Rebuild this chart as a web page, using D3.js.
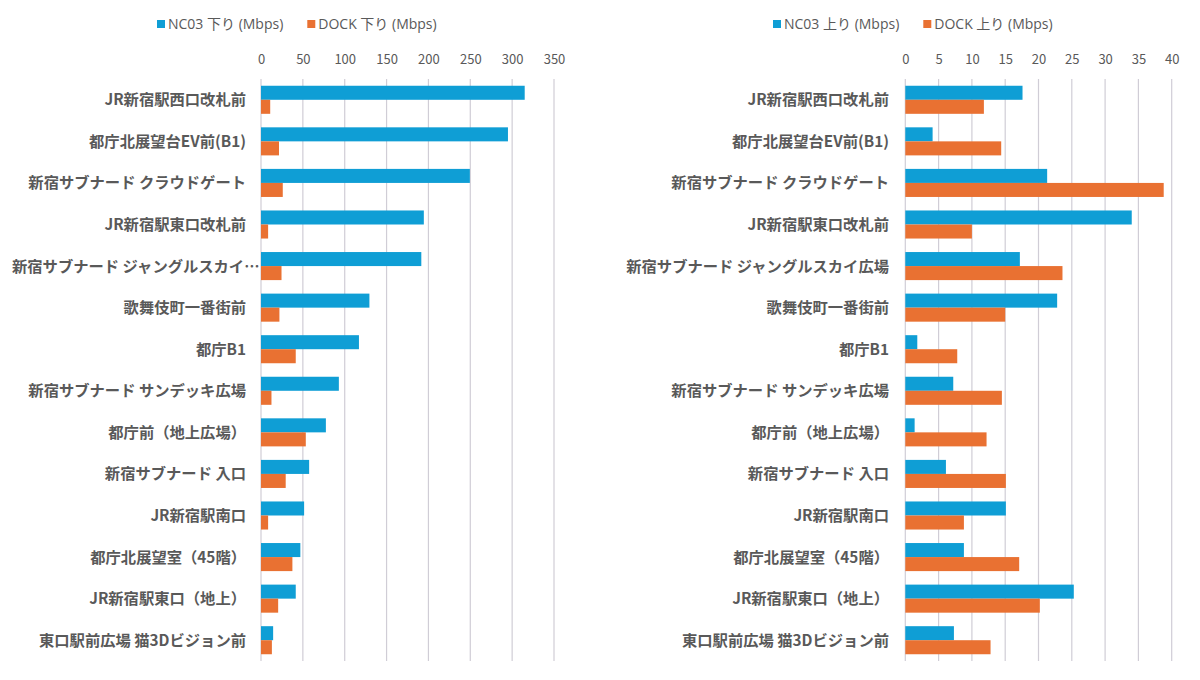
<!DOCTYPE html>
<html>
<head>
<meta charset="utf-8">
<script src="https://cdn.jsdelivr.net/npm/d3@7"></script>
<style>
  body { margin: 0; background: #fff; }
  svg text { font-family: "Noto Sans CJK JP", "Noto Sans", sans-serif; fill: #595959; }
  svg text.leg { font-family: "Open Sans", "Noto Sans CJK JP", sans-serif; }
</style>
</head>
<body>
<div class="chart"></div>
<script>
const downLabels = ["JR新宿駅西口改札前", "都庁北展望台EV前(B1)", "新宿サブナード クラウドゲート", "JR新宿駅東口改札前",
  "新宿サブナード ジャングルスカイ…", "歌舞伎町一番街前", "都庁B1", "新宿サブナード サンデッキ広場",
  "都庁前（地上広場）", "新宿サブナード 入口", "JR新宿駅南口", "都庁北展望室（45階）", "JR新宿駅東口（地上）",
  "東口駅前広場 猫3Dビジョン前"]
const upLabels = downLabels.map(d => d.replace("スカイ…", "スカイ広場"))

const nc03Down = [315, 295, 249.5, 194.5, 191.5, 129.5, 117, 93, 77.5, 57.5, 51.5, 47, 41.5, 14.5]
const dockDown = [11, 21.5, 26, 8.5, 24.5, 22, 41.5, 12.5, 53.5, 29.5, 8.5, 37.5, 20.5, 13]
const nc03Up = [17.6, 4.1, 21.3, 34.0, 17.2, 22.8, 1.8, 7.2, 1.4, 6.1, 15.1, 8.8, 25.3, 7.3]
const dockUp = [11.8, 14.4, 38.8, 10.0, 23.6, 15.0, 7.8, 14.5, 12.2, 15.1, 8.8, 17.1, 20.2, 12.8]

const downTicks = [0, 50, 100, 150, 200, 250, 300, 350]
const upTicks = [0, 5, 10, 15, 20, 25, 30, 35, 40]

const blue = "#0f9ed5", orange = "#e97132"

const svg = d3.select(".chart").append("svg")
  .attr("width", 1200).attr("height", 680)

const panel = (labels, s1, s2, names, ticks, xRange, labelEnd, legendX) => {
  const x = d3.scaleLinear().domain([0, d3.max(ticks)]).range(xRange)
  const y = d3.scaleBand().domain(labels).range([79, 661])
    .paddingInner(0.325).paddingOuter(0.1625)
  const sub = d3.scaleBand().domain([0, 1]).range([0, y.bandwidth()])

  const g = svg.append("g")

  // gridlines
  g.selectAll("line.grid")
    .data(ticks)
    .join("line")
      .attr("class", "grid")
      .attr("x1", d => x(d)).attr("x2", d => x(d))
      .attr("y1", 79).attr("y2", 661)
      .attr("stroke", "#d0cdd6").attr("stroke-width", 1.2)

  // tick labels on top
  const axis = d3.axisTop(x).tickValues(ticks).tickSize(0).tickPadding(0)
  const ax = g.append("g").attr("transform", "translate(0,64)").call(axis)
  ax.select(".domain").remove()
  ax.selectAll("text").style("font-size", "13px").attr("fill", "#595959")

  // bars
  const series = [s1, s2]
  const colors = [blue, orange]
  series.forEach((s, k) => {
    g.selectAll("rect.s" + k)
      .data(s)
      .join("rect")
        .attr("class", "s" + k)
        .attr("x", x(0))
        .attr("y", (d, i) => y(labels[i]) + sub(k))
        .attr("width", d => x(d) - x(0))
        .attr("height", sub.bandwidth())
        .attr("fill", colors[k])
  })

  // category labels
  g.selectAll("text.cat")
    .data(labels)
    .join("text")
      .attr("class", "cat")
      .attr("x", d => d.endsWith("…") ? 12 : labelEnd)
      .attr("y", d => y(d) + y.bandwidth() / 2)
      .attr("dy", "0.36em")
      .attr("text-anchor", d => d.endsWith("…") ? "start" : "end")
      .style("font-size", "15.3px")
      .style("font-weight", "bold")
      .text(d => d)

  // legend
  const lg = g.append("g").attr("transform", `translate(${legendX},24)`)
  let off = 0
  names.forEach((n, k) => {
    const item = lg.append("g").attr("transform", `translate(${off},0)`)
    item.append("rect").attr("x", 0).attr("y", -4).attr("width", 8).attr("height", 8).attr("fill", colors[k])
    const t = item.append("text").attr("class", "leg").attr("x", 11).attr("dy", "0.36em")
      .style("font-size", "14px").text(n)
    off += 11 + t.node().getComputedTextLength() + 24
  })
}

panel(downLabels, nc03Down, dockDown, ["NC03 下り (Mbps)", "DOCK 下り (Mbps)"], downTicks, [261, 554], 246, 157)
panel(upLabels, nc03Up, dockUp, ["NC03 上り (Mbps)", "DOCK 上り (Mbps)"], upTicks, [905.3, 1171.7], 889, 773)
</script>
</body>
</html>
